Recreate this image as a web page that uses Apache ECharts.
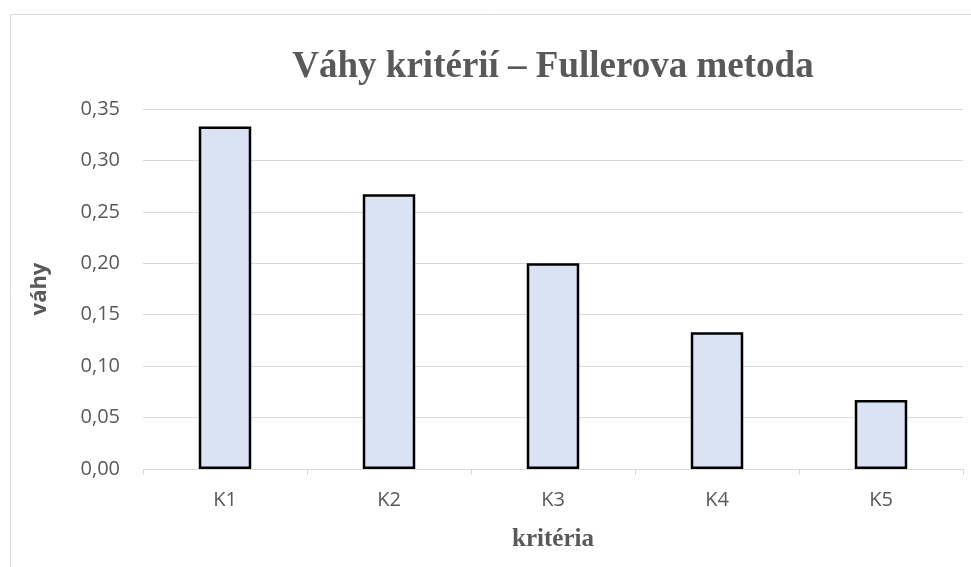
<!DOCTYPE html>
<html>
<head>
<meta charset="utf-8">
<style>
  html, body { margin: 0; padding: 0; background: #fff; }
  #chart { width: 971px; height: 567px; }
</style>
<script src="https://cdn.jsdelivr.net/npm/echarts@6/dist/echarts.min.js"></script>
</head>
<body>
<div id="chart"></div>
<script>
// Váhy kritérií – Fullerova metoda
const categories = ['K1', 'K2', 'K3', 'K4', 'K5']
const weights = [0.333, 0.267, 0.2, 0.133, 0.067]

const gray = '#595959'
const sans = '"Open Sans", "DejaVu Sans", sans-serif'
const serif = '"Liberation Serif", "DejaVu Serif", serif'

const chart = echarts.init(document.getElementById('chart'))
chart.setOption({
  animation: false,
  graphic: [{
    type: 'rect',
    left: 8,
    top: 12,
    shape: { width: 1000, height: 600 },
    style: { fill: 'none', stroke: '#d9d9d9', lineWidth: 1 },
    silent: true
  }],
  title: {
    text: 'Váhy kritérií – Fullerova metoda',
    left: 548,
    textAlign: 'center',
    top: 44,
    textStyle: { fontFamily: serif, fontWeight: 'bold', fontSize: 37, color: gray }
  },
  grid: { left: 143, right: 8, top: 109, bottom: 98 },
  xAxis: {
    type: 'category',
    data: categories,
    name: 'kritéria',
    nameLocation: 'middle',
    nameGap: 58,
    nameTextStyle: { fontFamily: serif, fontWeight: 'bold', fontSize: 25, color: gray },
    axisLine: { lineStyle: { color: '#d9d9d9', width: 1 } },
    axisTick: { show: true, length: 6, lineStyle: { color: '#d9d9d9' } },
    axisLabel: { fontFamily: sans, fontSize: 20, color: gray, margin: 21 }
  },
  yAxis: {
    type: 'value',
    min: 0,
    max: 0.35,
    interval: 0.05,
    name: 'váhy',
    nameLocation: 'middle',
    nameGap: 92,
    nameTextStyle: { fontFamily: sans, fontWeight: 'bold', fontSize: 22, color: gray },
    axisLine: { show: false },
    axisTick: { show: false },
    axisLabel: {
      fontFamily: sans, fontSize: 20, color: gray, margin: 23,
      formatter: v => v.toFixed(2).replace('.', ',')
    },
    splitLine: { lineStyle: { color: '#d9d9d9', width: 1 } }
  },
  series: [{
    type: 'bar',
    data: weights,
    barWidth: '32%',
    itemStyle: { color: '#dae3f3', borderColor: '#000', borderWidth: 2.5 }
  }]
})
</script>
</body>
</html>
